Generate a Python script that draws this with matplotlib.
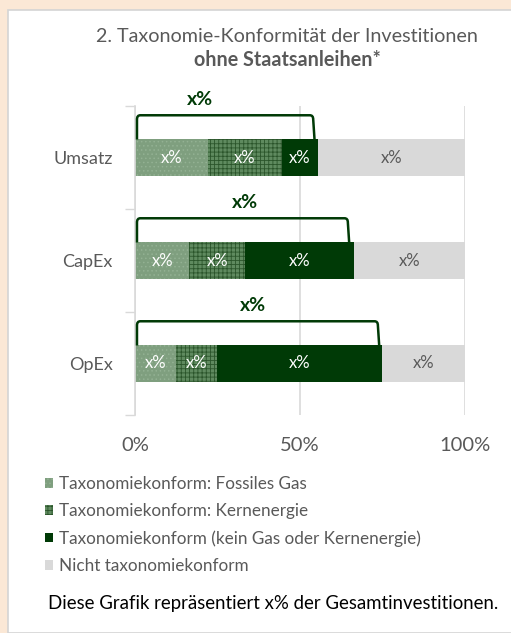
import matplotlib
matplotlib.use("Agg")
import matplotlib.pyplot as plt
from matplotlib.patches import Rectangle, Patch
from matplotlib.path import Path
from matplotlib.patches import PathPatch
import numpy as np

plt.rcParams['font.family'] = ['Lato', 'DejaVu Sans']
plt.rcParams['hatch.linewidth'] = 0.6

categories = ["Umsatz", "CapEx", "OpEx"]
fossil = [22.0, 16.5, 12.5]
nuclear = [22.5, 16.8, 12.4]
green = [11.0, 33.2, 50.0]
non_aligned = [44.5, 33.5, 25.1]
bracket_end = [54.0, 64.5, 73.6]
bracket_label_x = [19.7, 33.3, 35.8]
segment_labels = ["x%", "x%", "x%", "x%"]
bracket_labels = ["x%", "x%", "x%"]
xticks = [0, 50, 100]
xticklabels = ["0%", "50%", "100%"]
series_names = ["Taxonomiekonform: Fossiles Gas",
                "Taxonomiekonform: Kernenergie",
                "Taxonomiekonform (kein Gas oder Kernenergie)",
                "Nicht taxonomiekonform"]
title1 = "2. Taxonomie-Konformität der Investitionen"
title2 = "ohne Staatsanleihen*"
footer = "Diese Grafik repräsentiert x% der Gesamtinvestitionen."

W, H = 511, 633
fig = plt.figure(figsize=(W / 100, H / 100), dpi=100)
fig.patch.set_facecolor('#fbe8d6')
fig.add_artist(Rectangle((8 / W, 0), 1, 1 - 10 / H, transform=fig.transFigure,
                         facecolor='white', edgecolor='#d4d4d4', linewidth=1.2, zorder=0))

ax = fig.add_axes([135 / W, 1 - 415 / H, 330 / W, 309 / H])
ax.set_facecolor('none')

styles = [
    dict(color='#7f9f7f', hatch_color='#93b193', hatch='....'),
    dict(color='#5f8a5f', hatch_color='#2b552b', hatch='++++'),
    dict(color='#003a06', hatch_color='#003a06', hatch=None),
    dict(color='#d9d9d9', hatch_color='#d9d9d9', hatch=None),
]
text_colors = ['white', 'white', 'white', '#595959']
series = [fossil, nuclear, green, non_aligned]
y = np.arange(len(categories))
bh = 0.35
left = np.zeros(len(categories))
for vals, st, tc, lab in zip(series, styles, text_colors, segment_labels):
    vals = np.array(vals)
    bars = ax.barh(y, vals, left=left, height=bh, color=st['color'],
                   edgecolor=st['hatch_color'], linewidth=0, hatch=st['hatch'], zorder=2)
    for i, b in enumerate(bars):
        ax.text(left[i] + vals[i] / 2, y[i], lab, ha='center', va='center',
                color=tc, fontsize=12, zorder=4)
    left += vals

# brackets
for i in range(len(categories)):
    x0, x1 = 0.6, bracket_end[i]
    yb = y[i] - bh / 2
    yt = yb - 0.235
    r = 0.04
    rx = 1.0
    verts = [(x0, yb), (x0, yt + r), (x0, yt), (x0 + rx, yt),
             (x1 - rx, yt), (x1, yt), (x1, yt + r), (x1 + 0.4, yb)]
    codes = [Path.MOVETO, Path.LINETO, Path.CURVE3, Path.CURVE3,
             Path.LINETO, Path.CURVE3, Path.CURVE3, Path.LINETO]
    ax.add_patch(PathPatch(Path(verts, codes), fill=False, edgecolor='#003a06',
                           linewidth=1.8, zorder=3, clip_on=False))
    ax.text(bracket_label_x[i], yt - 0.07, bracket_labels[i],
            ha='center', va='bottom', color='#003a06', fontsize=14, fontweight='bold')

ax.set_xlim(0, 100)
ax.set_ylim(2.5, -0.5)
ax.set_xticks(xticks)
ax.set_xticklabels(xticklabels, fontsize=14.5, color='#595959')
ax.set_yticks(y)
ax.set_yticklabels(categories, fontsize=13, color='#595959')
ax.set_yticks([-0.5, 0.5, 1.5, 2.5], minor=True)
ax.tick_params(axis='y', which='major', length=0, pad=16)
ax.tick_params(axis='y', which='minor', length=7, color='#d9d9d9', width=1)
ax.tick_params(axis='x', length=0, pad=16)
ax.grid(axis='x', color='#d9d9d9', linewidth=1.2, zorder=0)
ax.set_axisbelow(True)
for s in ['top', 'right', 'bottom']:
    ax.spines[s].set_visible(False)
ax.spines['left'].set_color('#d9d9d9')
ax.spines['left'].set_linewidth(1.2)

fig.text(287 / W, 1 - 37 / H, title1, ha='center', va='center', fontsize=14.2, color='#595959')
fig.text(287 / W, 1 - 60 / H, title2, ha='center', va='center', fontsize=14.2,
         fontweight='bold', color='#595959')

handles = [Patch(facecolor=st['color'], edgecolor=st['hatch_color'], linewidth=0,
                 hatch=st['hatch']) for st in styles]
leg = fig.legend(handles, series_names, loc='upper left', bbox_to_anchor=(38 / W, 1 - 469 / H),
                 frameon=False, fontsize=12.3, handlelength=0.5, handleheight=0.5,
                 handletextpad=0.35, labelspacing=0.65, borderaxespad=0)
for t in leg.get_texts():
    t.set_color('#595959')

fig.text(48 / W, 1 - 603 / H, footer, ha='left', va='center', fontsize=13.4, color='black')

fig.savefig('out.png', dpi=100, facecolor=fig.get_facecolor())
